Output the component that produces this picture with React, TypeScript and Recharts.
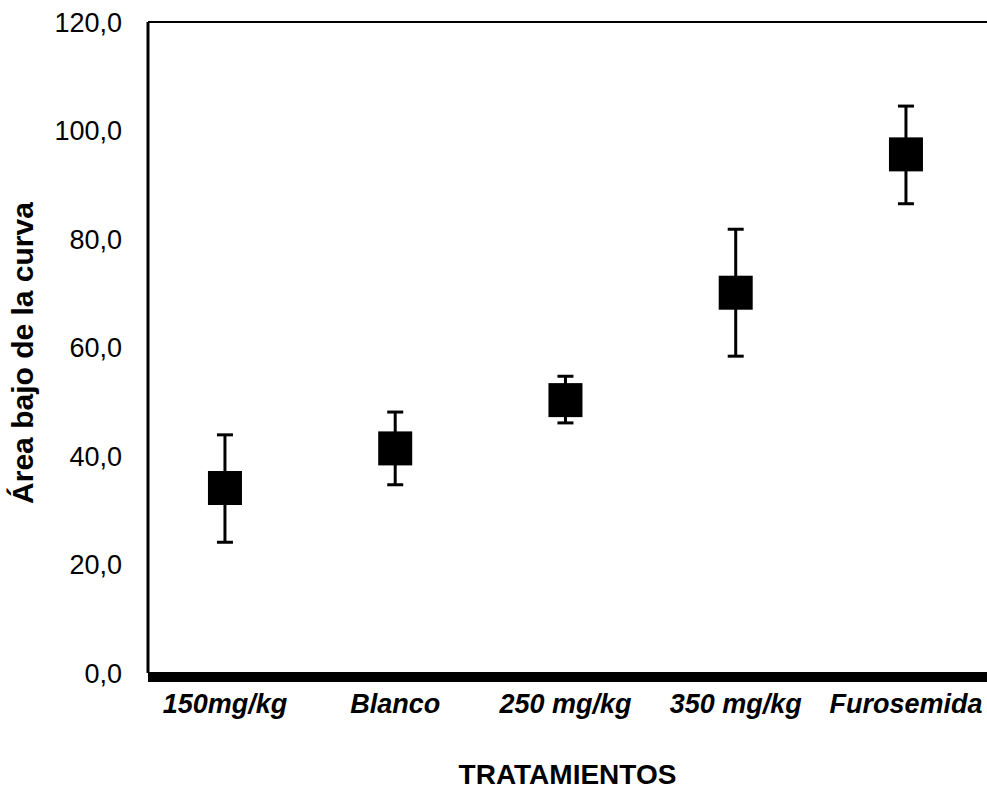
import React from "react"
import {
  ScatterChart,
  Scatter,
  XAxis,
  YAxis,
  ErrorBar,
  ReferenceLine,
} from "recharts"

const categories = ["150mg/kg", "Blanco", "250 mg/kg", "350 mg/kg", "Furosemida"]
const means = [34.1, 41.4, 50.3, 70.1, 95.6]
const errLow = [10.0, 6.7, 4.2, 11.7, 9.1]
const errHigh = [9.8, 6.7, 4.4, 11.7, 8.9]
const yTicks = [0, 20, 40, 60, 80, 100, 120]

const data = categories.map((name, i) => ({
  x: i,
  y: means[i],
  err: [errLow[i], errHigh[i]],
}))

const font = '"Liberation Sans", Arial, sans-serif'

// filled square marker, 34px side
const SquareMark = (props: any) => (
  <rect x={props.cx - 17} y={props.cy - 17} width={34} height={34} fill="#000" />
)

export default function App() {
  return (
    <div style={{ position: "absolute", left: 0, top: 0, width: 987, height: 793, fontFamily: font, background: "#fff" }}>
      <ScatterChart width={987} height={793} margin={{ top: 22, right: 0, left: 0, bottom: 0 }}>
        <XAxis
          type="number"
          dataKey="x"
          domain={[-0.452, 4.476]}
          ticks={[0, 1, 2, 3, 4]}
          tickFormatter={(v: number) => categories[v]}
          allowDataOverflow
          height={120}
          tickLine={false}
          tickSize={0}
          tickMargin={21}
          axisLine={{ stroke: "#000", strokeWidth: 10, transform: "translate(0,4)" }}
          tick={{ fontSize: 27, fontWeight: 700, fontStyle: "italic", fill: "#000", fontFamily: font }}
          label={{
            value: "TRATAMIENTOS",
            position: "insideBottom",
            offset: 9,
            style: { fontSize: 28, fontWeight: 700, fill: "#000", fontFamily: font },
          }}
        />
        <YAxis
          type="number"
          dataKey="y"
          domain={[0, 120]}
          ticks={yTicks}
          width={148}
          tickLine={false}
          tickSize={0}
          tickMargin={26}
          axisLine={{ stroke: "#000", strokeWidth: 3 }}
          tickFormatter={(v: number) => v.toFixed(1).replace(".", ",")}
          tick={{ fontSize: 27, fill: "#000", fontFamily: font }}
          label={{
            content: () => (
              <text
                x={22}
                y={353}
                transform="rotate(-90 22 353)"
                textAnchor="middle"
                dominantBaseline="central"
                style={{ fontSize: 30, fontWeight: 700, fill: "#000", fontFamily: font }}
              >
                Área bajo de la curva
              </text>
            ),
          }}
        />
        <ReferenceLine y={120} stroke="#000" strokeWidth={2} />
        <Scatter data={data} fill="#000" shape={SquareMark} isAnimationActive={false}>
          <ErrorBar dataKey="err" direction="y" width={8} stroke="#000" strokeWidth={3} />
        </Scatter>
      </ScatterChart>
    </div>
  )
}
